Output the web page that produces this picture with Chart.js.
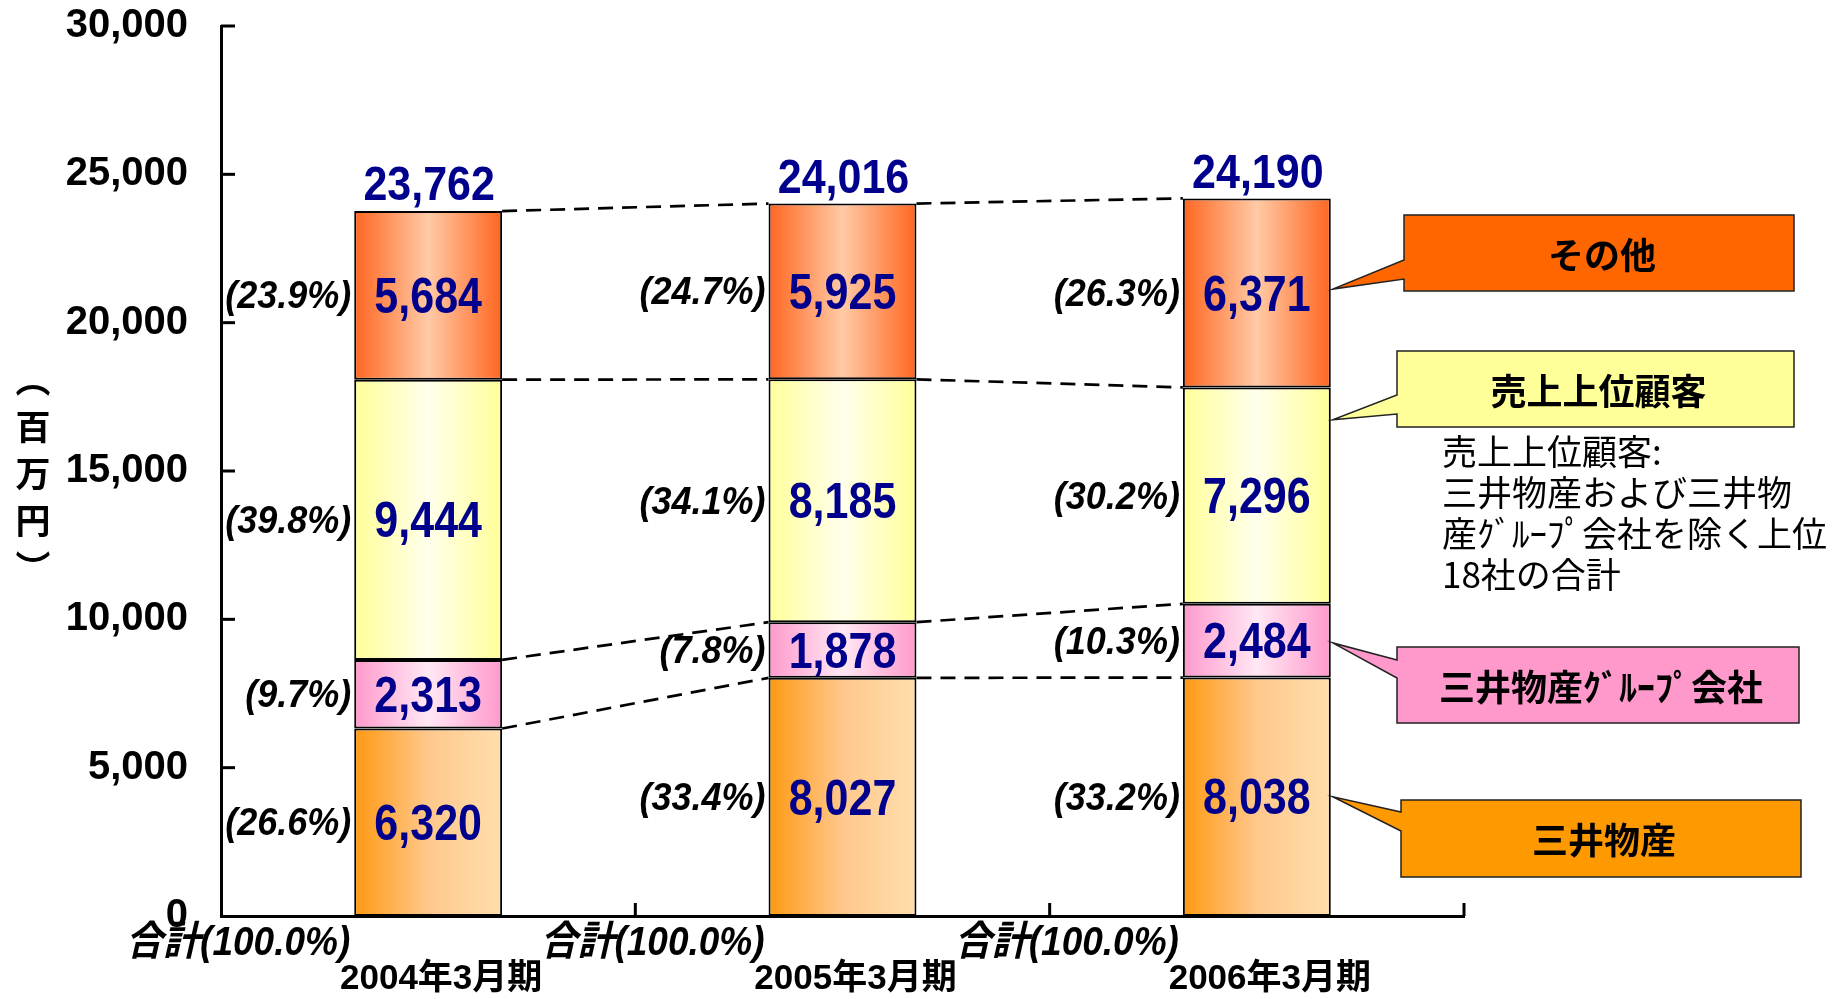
<!DOCTYPE html>
<html>
<head>
<meta charset="utf-8">
<script src="https://cdn.jsdelivr.net/npm/chart.js@4.4.0/dist/chart.umd.min.js"></script>
<style>
  body { margin: 0; background: #fff; }
</style>
</head>
<body>
<canvas id="chart" width="1842" height="999"></canvas>
<script>
// data (百万円)
const periods = ['2004年3月期', '2005年3月期', '2006年3月期'];
const seriesNames = ['三井物産', '三井物産ｸﾞﾙｰﾌﾟ会社', '売上上位顧客', 'その他'];
const mitsui = [6320, 8027, 8038];
const mitsuiGroup = [2313, 1878, 2484];
const topCustomers = [9444, 8185, 7296];
const others = [5684, 5925, 6371];
const totals = [23762, 24016, 24190];
const pctMitsui = ['26.6', '33.4', '33.2'];
const pctGroup = ['9.7', '7.8', '10.3'];
const pctTop = ['39.8', '34.1', '30.2'];
const pctOthers = ['23.9', '24.7', '26.3'];
const totalLabel = '合計(100.0%)';
const yMax = 30000;
const yStep = 5000;
const axisTitle = ['︵', '百', '万', '円', '︶'];
const noteLines = ['売上上位顧客:', '三井物産および三井物', '産ｸﾞﾙｰﾌﾟ会社を除く上位', '18社の合計'];

const FONT = '"Liberation Sans", "Noto Sans CJK JP", sans-serif';
const JP = '"Noto Sans CJK JP", sans-serif';
const NAVY = '#00008c';
const BAR_PCT = 0.357;

function barGradient(context, stops) {
  const chart = context.chart;
  const xs = chart.scales.x;
  if (!chart.chartArea || !xs || context.dataIndex === undefined) return stops[0];
  const cx = xs.getPixelForValue(context.dataIndex);
  const half = xs.width / periods.length * BAR_PCT / 2;
  const g = chart.ctx.createLinearGradient(cx - half, 0, cx + half, 0);
  stops.forEach((c, i) => g.addColorStop(i / (stops.length - 1), c));
  return g;
}

// text a bit taller than wide, like the original's fonts
function tallText(ctx, t, x, y, sy) {
  ctx.save();
  ctx.translate(x, y);
  ctx.scale(1, sy);
  ctx.fillText(t, 0, 0);
  ctx.restore();
}

const fills = [
  ['#ff9912', '#ffc88c', '#ffdead'],
  ['#ff99cc', '#ffe8f4', '#ff99cc'],
  ['#ffff99', '#ffffec', '#ffff99'],
  ['#ff6620', '#ffcaa6', '#ff6620']
];
const pcts = [pctMitsui, pctGroup, pctTop, pctOthers];

// callout boxes on the right
const callouts = [
  { ds: 3, color: '#ff6600', x: 1404, y: 215, w: 390, h: 76, b0: 260, b1: 279, frac: 0.52 },
  { ds: 2, color: '#ffff99', x: 1397, y: 351, w: 397, h: 76, b0: 395, b1: 414, frac: 0.85 },
  { ds: 1, color: '#ff99cc', x: 1397, y: 647, w: 402, h: 76, b0: 660, b1: 678, frac: 0.47 },
  { ds: 0, color: '#ff9900', x: 1401, y: 800, w: 400, h: 77, b0: 812, b1: 831, frac: 0.5 }
];

const decor = {
  id: 'decor',
  afterDatasetsDraw(chart) {
    const ctx = chart.ctx;
    const area = chart.chartArea;
    const ys = chart.scales.y;
    const xs = chart.scales.x;
    ctx.save();

    // inward tick marks on the y axis
    ctx.strokeStyle = '#000';
    ctx.lineWidth = 3;
    for (let v = yStep; v <= yMax; v += yStep) {
      const py = ys.getPixelForValue(v);
      ctx.beginPath();
      ctx.moveTo(area.left, py);
      ctx.lineTo(area.left + 14, py);
      ctx.stroke();
    }
    // upward tick marks at category boundaries
    const bounds = [];
    for (let j = 0; j < periods.length - 1; j++) {
      bounds.push((xs.getPixelForValue(j) + xs.getPixelForValue(j + 1)) / 2);
    }
    bounds.push(area.right);
    bounds.forEach(bx => {
      ctx.beginPath();
      ctx.moveTo(bx, area.bottom);
      ctx.lineTo(bx, area.bottom - 13);
      ctx.stroke();
    });

    // dashed connectors between bars
    ctx.lineWidth = 2.7;
    ctx.setLineDash([15, 9]);
    for (let i = 0; i < 4; i++) {
      const els = chart.getDatasetMeta(i).data;
      for (let j = 0; j < els.length - 1; j++) {
        const a = els[j], b = els[j + 1];
        ctx.beginPath();
        ctx.moveTo(a.x + a.width / 2, a.y);
        ctx.lineTo(b.x - b.width / 2, b.y);
        ctx.stroke();
      }
    }
    ctx.setLineDash([]);

    // values and shares
    ctx.textBaseline = 'middle';
    for (let i = 0; i < 4; i++) {
      const meta = chart.getDatasetMeta(i);
      meta.data.forEach((e, j) => {
        const my = (e.y + e.base) / 2;
        ctx.fillStyle = NAVY;
        ctx.font = 'bold 43px ' + FONT;
        ctx.textAlign = 'center';
        tallText(ctx, chart.data.datasets[i].data[j].toLocaleString('en-US'), e.x, my + 4, 1.15);
        ctx.fillStyle = '#000';
        ctx.font = 'italic bold 36px ' + FONT;
        ctx.textAlign = 'right';
        tallText(ctx, '(' + pcts[i][j] + '%)', e.x - e.width / 2 - 3, my + 2, 1.1);
      });
    }
    // totals above bars and 合計 labels
    chart.getDatasetMeta(3).data.forEach((e, j) => {
      ctx.fillStyle = NAVY;
      ctx.font = 'bold 43px ' + FONT;
      ctx.textAlign = 'center';
      tallText(ctx, totals[j].toLocaleString('en-US'), e.x + 1, e.y - 24, 1.12);
      ctx.fillStyle = '#000';
      ctx.font = 'italic bold 37px ' + FONT;
      ctx.textAlign = 'right';
      tallText(ctx, totalLabel, e.x - e.width / 2 - 4, area.bottom + 28, 1.1);
    });

    // vertical axis title
    ctx.font = 'bold 35px ' + JP;
    ctx.textAlign = 'center';
    const mid = (area.top + area.bottom) / 2 + 3;
    axisTitle.forEach((ch, k) => {
      ctx.fillText(ch, 33, mid + (k - 2) * 47);
    });

    // callouts
    callouts.forEach(c => {
      const els = chart.getDatasetMeta(c.ds).data;
      const e = els[els.length - 1];
      const tx = e.x + e.width / 2 + 2;
      const ty = e.base + (e.y - e.base) * c.frac;
      ctx.beginPath();
      ctx.moveTo(c.x, c.y);
      ctx.lineTo(c.x + c.w, c.y);
      ctx.lineTo(c.x + c.w, c.y + c.h);
      ctx.lineTo(c.x, c.y + c.h);
      ctx.lineTo(c.x, c.b1);
      ctx.lineTo(tx, ty);
      ctx.lineTo(c.x, c.b0);
      ctx.closePath();
      ctx.fillStyle = c.color;
      ctx.fill();
      ctx.strokeStyle = '#222';
      ctx.lineWidth = 1.5;
      ctx.stroke();
      ctx.fillStyle = '#000';
      ctx.font = 'bold 36px ' + JP;
      ctx.textAlign = 'center';
      ctx.fillText(seriesNames[c.ds], c.x + c.w / 2 + 3, c.y + c.h / 2 + 2);
    });

    // note under the yellow callout
    ctx.font = '35px ' + JP;
    ctx.textAlign = 'left';
    noteLines.forEach((t, k) => {
      ctx.fillText(t, 1442, 452 + k * 41);
    });

    ctx.restore();
  }
};

const sets = [mitsui, mitsuiGroup, topCustomers, others].map((d, i) => ({
  label: seriesNames[i],
  data: d,
  backgroundColor: c => barGradient(c, fills[i]),
  borderColor: '#000',
  borderWidth: 2,
  borderSkipped: false,
  categoryPercentage: 1,
  barPercentage: BAR_PCT
}));

new Chart(document.getElementById('chart'), {
  type: 'bar',
  data: { labels: periods, datasets: sets },
  options: {
    responsive: false,
    animation: false,
    layout: { padding: { left: 0, right: 378, top: 26, bottom: 0 } },
    plugins: { legend: { display: false }, tooltip: { enabled: false } },
    scales: {
      x: {
        stacked: true,
        grid: { display: false, drawTicks: false },
        border: { display: true, color: '#000', width: 3 },
        ticks: {
          color: '#000',
          font: { family: FONT, size: 35, weight: 'bold' },
          padding: 42,
          labelOffset: 13,
          maxRotation: 0,
          autoSkip: false
        },
        afterFit: s => { s.height = 83; s.paddingLeft = 0; s.paddingRight = 0; }
      },
      y: {
        stacked: true,
        min: 0,
        max: yMax,
        grid: { display: false, drawTicks: false },
        border: { display: true, color: '#000', width: 3 },
        ticks: {
          stepSize: yStep,
          color: '#000',
          padding: 33,
          font: { family: FONT, size: 40, weight: 'bold' },
          callback: v => v.toLocaleString('en-US')
        },
        afterFit: s => { s.width = 221; s.paddingTop = 0; s.paddingBottom = 0; }
      }
    }
  },
  plugins: [decor]
});
</script>
</body>
</html>
